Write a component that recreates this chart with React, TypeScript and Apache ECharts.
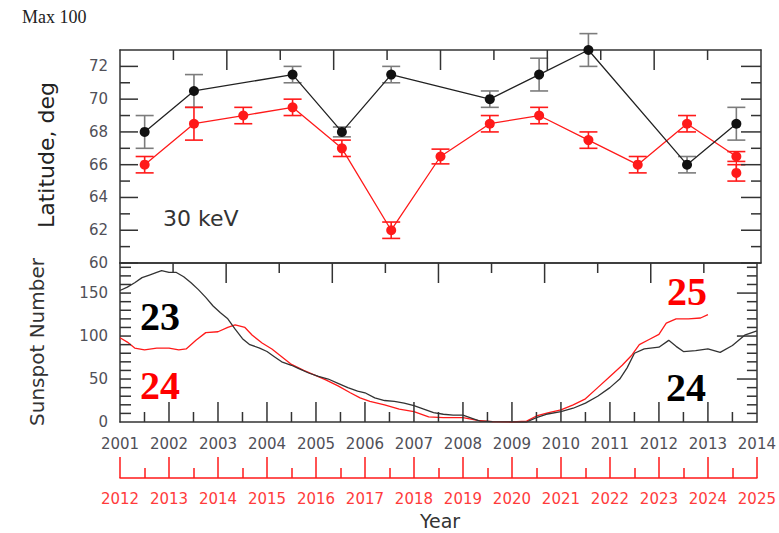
import React, { useEffect, useRef } from "react";
import * as echarts from "echarts";

// ---- Top panel: auroral latitude at 30 keV ----
const blackYears = [2001.5, 2002.5, 2004.5, 2005.5, 2006.5, 2008.5, 2009.5, 2010.5, 2012.5, 2013.5];
const blackLat = [68, 70.5, 71.5, 68, 71.5, 70, 71.5, 73, 66, 68.5];
const blackErr = [1, 1, 0.5, 0.3, 0.5, 0.5, 1, 1, 0.5, 1];

const redYears = [2001.5, 2002.5, 2003.5, 2004.5, 2005.5, 2006.5, 2007.5, 2008.5, 2009.5, 2010.5, 2011.5, 2012.5, 2013.5, 2013.5];
const redLat = [66, 68.5, 69, 69.5, 67, 62, 66.5, 68.5, 69, 67.5, 66, 68.5, 66.5, 65.5];
const redErr = [0.5, 1, 0.5, 0.5, 0.5, 0.5, 0.45, 0.5, 0.5, 0.5, 0.5, 0.5, 0.3, 0.5];

// ---- Bottom panel: sunspot number ----
// cycle 23 (black axis years 2001-2014)
const ssn23Years = [2001.0, 2001.15, 2001.3, 2001.45, 2001.6, 2001.75, 2001.85, 2002.0, 2002.15, 2002.3, 2002.45, 2002.6, 2002.75, 2002.9, 2003.05, 2003.2, 2003.35, 2003.5, 2003.65, 2003.85, 2004.0, 2004.15, 2004.3, 2004.5, 2004.65, 2004.85, 2005.05, 2005.25, 2005.45, 2005.65, 2005.85, 2006.0, 2006.2, 2006.4, 2006.6, 2006.8, 2007.0, 2007.2, 2007.4, 2007.6, 2007.8, 2008.0, 2008.2, 2008.35, 2008.6, 2009.0, 2009.3, 2009.5, 2009.7, 2010.0, 2010.25, 2010.5, 2010.75, 2011.0, 2011.2, 2011.35, 2011.5, 2011.7, 2012.0, 2012.2, 2012.35, 2012.5, 2012.75, 2013.0, 2013.25, 2013.5, 2013.75, 2014.0];
const ssn23Values = [153, 157, 162, 168, 171, 174, 176, 174, 174, 169, 162, 154, 145, 135, 127, 120, 108, 97, 90, 86, 82, 76, 70, 66, 62, 57, 53, 50, 45, 40, 36, 34, 28, 25, 24, 22, 19, 15, 11, 9, 8, 8, 4, 1, 0.5, 0, 0, 5, 9, 12, 16, 22, 30, 40, 50, 63, 80, 85, 87, 95, 88, 82, 83, 85, 81, 89, 101, 106];

// cycles 24/25 (red axis years 2012-2025)
const ssn24Years = [2012.0, 2012.15, 2012.3, 2012.5, 2012.75, 2013.0, 2013.2, 2013.35, 2013.55, 2013.75, 2014.0, 2014.2, 2014.35, 2014.55, 2014.7, 2014.9, 2015.1, 2015.3, 2015.5, 2015.75, 2016.0, 2016.2, 2016.45, 2016.7, 2016.9, 2017.1, 2017.4, 2017.7, 2018.0, 2018.3, 2018.6, 2019.0, 2019.3, 2019.6, 2020.0, 2020.3, 2020.5, 2020.75, 2021.0, 2021.25, 2021.5, 2021.75, 2022.0, 2022.25, 2022.45, 2022.6, 2022.8, 2023.0, 2023.15, 2023.35, 2023.6, 2023.85, 2024.0];
const ssn24Values = [98, 93, 86, 84, 86, 86, 84, 85, 95, 104, 105, 110, 113, 110, 101, 92, 85, 76, 67, 60, 54, 49, 42, 34, 28, 24, 20, 15, 12, 6, 5, 5, 2, 0.5, 0, 1, 7, 11, 14, 20, 27, 40, 53, 66, 78, 90, 96, 102, 115, 120, 120, 121, 125];

// ---- tick positions (axis values) ----
const latTicks = [60, 61, 62, 63, 64, 65, 66, 67, 68, 69, 70, 71, 72];
const ssnTicks = [10, 20, 30, 40, 50, 60, 70, 80, 90, 100, 110, 120, 130, 140, 150, 160, 170, 180];
const yearTicks = [2001.5, 2002, 2002.5, 2003, 2003.5, 2004, 2004.5, 2005, 2005.5, 2006, 2006.5, 2007, 2007.5, 2008, 2008.5, 2009, 2009.5, 2010, 2010.5, 2011, 2011.5, 2012, 2012.5, 2013, 2013.5];
const topDivisions = [1, 2, 3, 4, 5, 6, 7, 8, 9, 10, 11]; // of 12 equal divisions along the top edges

const FRAME = "#333333";
const LABEL = "#505058";
const RED = "#ff1a1a";
const RED_LABEL = "#ff3b3b";
const FONT = "DejaVu Sans";

const pairs = (xs: number[], ys: number[]) => xs.map((x, i) => [x, ys[i]]);
const errData = (xs: number[], ys: number[], es: number[]) => xs.map((x, i) => [x, ys[i] - es[i], ys[i] + es[i]]);

// tick item: [xValue, yValue, dxPixels, dyPixels]
const topEdge = (yTop: number) => topDivisions.map((k) => [2001 + (k * 13) / 12, yTop, 0, k % 2 === 0 ? 20 : 10]);
const ticksTop = [
  ...topEdge(73),
  ...latTicks.map((v) => [2001, v, v % 2 === 0 ? 18 : 10, 0]),
  ...latTicks.map((v) => [2014, v, v % 2 === 0 ? -20 : -10, 0]),
];
const ticksBottom = [
  ...topEdge(185),
  ...yearTicks.map((v) => [v, 0, 0, Number.isInteger(v) ? -20 : -10]),
  ...ssnTicks.map((v) => [2001, v, 11, 0]),
  ...ssnTicks.map((v) => [2014, v, v % 50 === 0 ? -20 : -10, 0]),
];

function tickRenderer(params: any, api: any) {
  const p = api.coord([api.value(0), api.value(1)]);
  const dx = api.value(2);
  const dy = api.value(3);
  return {
    type: "group",
    children: [
      {
        type: "line",
        shape: { x1: p[0], y1: p[1], x2: p[0] + dx, y2: p[1] + dy },
        style: { stroke: FRAME, lineWidth: 1.5 },
      },
    ],
  };
}

function errorBars(color: string) {
  return (params: any, api: any) => {
    const x = api.value(0);
    const lo = api.coord([x, api.value(1)]);
    const hi = api.coord([x, api.value(2)]);
    const hw = 9;
    const style = { stroke: color, lineWidth: 1.6 };
    return {
      type: "group",
      children: [
        { type: "line", shape: { x1: lo[0], y1: lo[1], x2: hi[0], y2: hi[1] }, style },
        { type: "line", shape: { x1: lo[0] - hw, y1: lo[1], x2: lo[0] + hw, y2: lo[1] }, style },
        { type: "line", shape: { x1: hi[0] - hw, y1: hi[1], x2: hi[0] + hw, y2: hi[1] }, style },
      ],
    };
  };
}

const frameLine = () => ({ show: true, onZero: false, lineStyle: { color: FRAME, width: 1.5 } });

const frameAxisX = (gridIndex: number) => ({
  type: "value",
  gridIndex,
  position: "top",
  min: 0,
  max: 12,
  axisLine: frameLine(),
  axisTick: { show: false },
  axisLabel: { show: false },
  splitLine: { show: false },
});

const frameAxisY = (gridIndex: number, position: string, min: number, max: number, interval: number, labels: boolean, labelEvery: number) => ({
  type: "value",
  gridIndex,
  position,
  min,
  max,
  interval,
  axisLine: frameLine(),
  axisTick: { show: false },
  axisLabel: labels
    ? {
        show: true,
        margin: 12,
        color: LABEL,
        fontFamily: FONT,
        fontSize: 15,
        formatter: (v: number) => (Math.abs(v % labelEvery) < 1e-6 ? String(v) : ""),
      }
    : { show: false },
  splitLine: { show: false },
});

export default function App() {
  const ref = useRef<HTMLDivElement>(null);

  useEffect(() => {
    if (!ref.current) return;
    const chart = echarts.init(ref.current, undefined, { renderer: "svg" });

    const option: any = {
      animation: false,
      grid: [
        { left: 120, top: 50, width: 641, height: 213, show: false },
        { left: 120, top: 263, width: 641, height: 159, show: false },
      ],
      xAxis: [
        {
          type: "value",
          gridIndex: 0,
          position: "bottom",
          min: 2001,
          max: 2014,
          axisLine: frameLine(),
          axisTick: { show: false },
          axisLabel: { show: false },
          splitLine: { show: false },
        },
        frameAxisX(0),
        {
          type: "value",
          gridIndex: 1,
          position: "bottom",
          min: 2001,
          max: 2014,
          interval: 1,
          axisLine: frameLine(),
          axisTick: { show: false },
          axisLabel: { show: true, margin: 14, color: LABEL, fontFamily: FONT, fontSize: 15, formatter: (v: number) => String(v) },
          splitLine: { show: false },
        },
        frameAxisX(1),
        {
          type: "value",
          gridIndex: 1,
          position: "bottom",
          offset: 56,
          min: 2012,
          max: 2025,
          interval: 1,
          axisLine: { show: true, onZero: false, lineStyle: { color: RED, width: 1.5 } },
          axisTick: { show: true, inside: true, length: 21, lineStyle: { color: RED, width: 1.5 } },
          minorTick: { show: true, splitNumber: 2, length: 10, lineStyle: { color: RED, width: 1.5 } },
          axisLabel: { show: true, margin: 13, color: RED_LABEL, fontFamily: FONT, fontSize: 15, formatter: (v: number) => String(v) },
          splitLine: { show: false },
        },
      ],
      yAxis: [
        frameAxisY(0, "left", 60, 73, 2, true, 2),
        frameAxisY(0, "right", 60, 73, 2, false, 2),
        frameAxisY(1, "left", 0, 185, 50, true, 50),
        frameAxisY(1, "right", 0, 185, 50, false, 50),
      ],
      series: [
        {
          type: "custom",
          name: "ticksTop",
          xAxisIndex: 0,
          yAxisIndex: 0,
          renderItem: tickRenderer,
          data: ticksTop,
          clip: false,
          z: 10,
        },
        {
          type: "custom",
          name: "ticksBottom",
          xAxisIndex: 2,
          yAxisIndex: 2,
          renderItem: tickRenderer,
          data: ticksBottom,
          clip: false,
          z: 10,
        },
        {
          type: "custom",
          xAxisIndex: 0,
          yAxisIndex: 0,
          renderItem: errorBars("#7c7c7c"),
          data: errData(blackYears, blackLat, blackErr),
          clip: false,
          z: 2,
        },
        {
          type: "custom",
          xAxisIndex: 0,
          yAxisIndex: 0,
          renderItem: errorBars(RED),
          data: errData(redYears, redLat, redErr),
          clip: false,
          z: 2,
        },
        {
          type: "line",
          xAxisIndex: 0,
          yAxisIndex: 0,
          data: pairs(redYears, redLat),
          symbol: "circle",
          symbolSize: 10,
          itemStyle: { color: RED },
          lineStyle: { color: RED, width: 1.3 },
          z: 3,
        },
        {
          type: "line",
          xAxisIndex: 0,
          yAxisIndex: 0,
          data: pairs(blackYears, blackLat),
          symbol: "circle",
          symbolSize: 10,
          itemStyle: { color: "#111111" },
          lineStyle: { color: "#222222", width: 1.3 },
          z: 4,
        },
        {
          type: "line",
          xAxisIndex: 4,
          yAxisIndex: 2,
          data: pairs(ssn24Years, ssn24Values),
          showSymbol: false,
          lineStyle: { color: RED, width: 1.3 },
          z: 3,
        },
        {
          type: "line",
          xAxisIndex: 2,
          yAxisIndex: 2,
          data: pairs(ssn23Years, ssn23Values),
          showSymbol: false,
          lineStyle: { color: "#333333", width: 1.3 },
          z: 4,
        },
      ],
      graphic: [
        {
          type: "text",
          x: 22,
          y: 17,
          style: { text: "Max 100", fill: "#222", fontFamily: "Liberation Serif", fontSize: 18, textAlign: "left", align: "left", textVerticalAlign: "middle", verticalAlign: "middle" },
        },
        {
          type: "text",
          x: 163,
          y: 218,
          style: { text: "30 keV", fill: "#333", fontFamily: FONT, fontSize: 22, textAlign: "left", align: "left", textVerticalAlign: "middle", verticalAlign: "middle" },
        },
        {
          type: "text",
          x: 46,
          y: 155,
          rotation: Math.PI / 2,
          style: { text: "Latitude, deg", fill: "#222", fontFamily: FONT, fontSize: 22, textAlign: "center", align: "center", textVerticalAlign: "middle", verticalAlign: "middle" },
        },
        {
          type: "text",
          x: 37,
          y: 342,
          rotation: Math.PI / 2,
          style: { text: "Sunspot Number", fill: "#333", fontFamily: FONT, fontSize: 20, textAlign: "center", align: "center", textVerticalAlign: "middle", verticalAlign: "middle" },
        },
        {
          type: "text",
          x: 160,
          y: 316,
          style: { text: "23", fill: "#000", fontFamily: "Liberation Serif", fontWeight: "bold", fontSize: 40, textAlign: "center", align: "center", textVerticalAlign: "middle", verticalAlign: "middle" },
        },
        {
          type: "text",
          x: 160,
          y: 385,
          style: { text: "24", fill: "#ff0000", fontFamily: "Liberation Serif", fontWeight: "bold", fontSize: 40, textAlign: "center", align: "center", textVerticalAlign: "middle", verticalAlign: "middle" },
        },
        {
          type: "text",
          x: 687,
          y: 291,
          style: { text: "25", fill: "#ff0000", fontFamily: "Liberation Serif", fontWeight: "bold", fontSize: 40, textAlign: "center", align: "center", textVerticalAlign: "middle", verticalAlign: "middle" },
        },
        {
          type: "text",
          x: 686,
          y: 387,
          style: { text: "24", fill: "#000", fontFamily: "Liberation Serif", fontWeight: "bold", fontSize: 40, textAlign: "center", align: "center", textVerticalAlign: "middle", verticalAlign: "middle" },
        },
        {
          type: "text",
          x: 440,
          y: 521,
          style: { text: "Year", fill: "#333", fontFamily: FONT, fontSize: 19, textAlign: "center", align: "center", textVerticalAlign: "middle", verticalAlign: "middle" },
        },
      ],
    };

    chart.setOption(option);
    return () => chart.dispose();
  }, []);

  return (
    <div
      ref={ref}
      style={{ position: "fixed", left: 0, top: 0, width: 779, height: 533, background: "#fff" }}
    />
  );
}
